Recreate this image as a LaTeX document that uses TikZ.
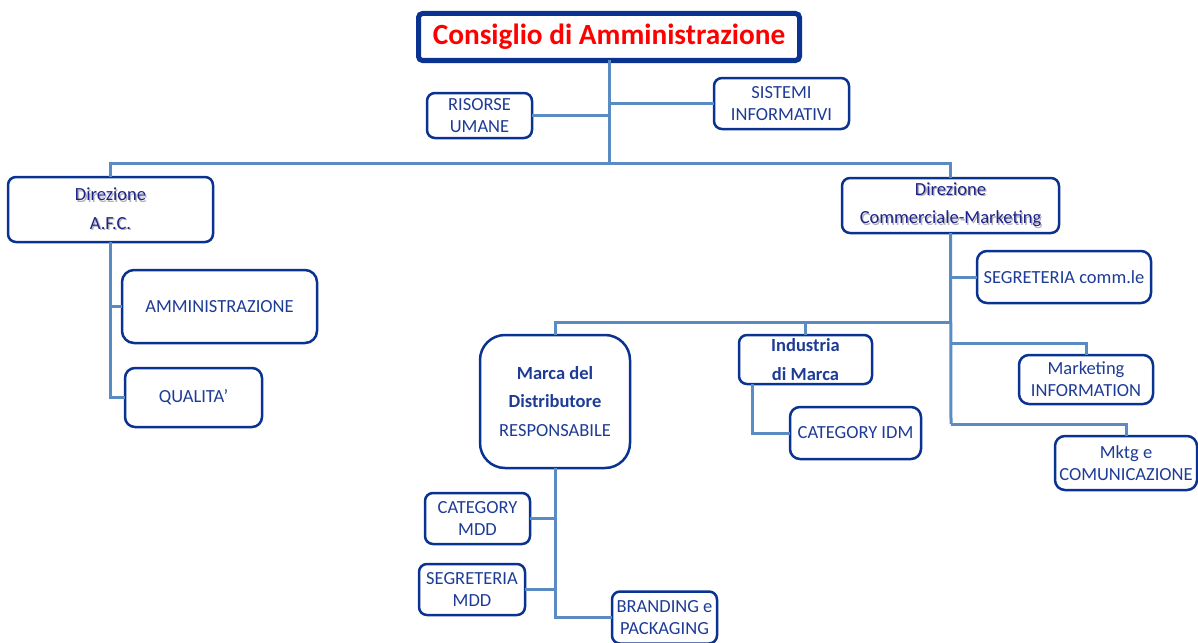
\documentclass[tikz,border=0pt]{standalone}
\usepackage{fontspec}
\setmainfont{Carlito}
\usetikzlibrary{calc}
\definecolor{bordercol}{RGB}{10,50,145}
\definecolor{txtcol}{RGB}{30,60,150}
\definecolor{dircol}{RGB}{30,35,140}
\definecolor{linecol}{RGB}{90,140,195}
\newcommand\shd[1]{\leavevmode\rlap{\hspace{1.3pt}\raisebox{-1.3pt}{\color{black!30}#1}}#1}
\begin{document}
\begin{tikzpicture}[x=1pt,y=-1pt,
  box/.style={draw=bordercol, line width=2.5pt, rounded corners=8pt, fill=white,
    text=txtcol, align=center, inner sep=0pt, outer sep=0pt,
    font=\fontsize{18.5}{22}\selectfont},
  widebox/.style={box, font=\fontsize{18.5}{28.5}\selectfont},
  conn/.style={draw=linecol, line width=3pt}]
\useasboundingbox (0,0) rectangle (1198,642);
\fill[white] (0,0) rectangle (1198,642);

\coordinate (bus) at (609,163);
\coordinate (b2) at (951,322);
\coordinate (mi) at (951,343);
\coordinate (mc) at (951,424);

\node[box, draw=bordercol, line width=5pt, rounded corners=4pt, minimum width=381pt, minimum height=47pt,
  text=red, font=\fontsize{29.3}{32}\selectfont\bfseries] (top) at (609,37) {Consiglio di Amministrazione};
\node[box, minimum width=105pt, minimum height=45pt] (ru) at (479.5,115.5) {RISORSE\\UMANE};
\node[box, minimum width=135pt, minimum height=51pt] (si) at (781.5,103.5) {SISTEMI\\INFORMATIVI};
\node[widebox, text=dircol, minimum width=205pt, minimum height=65pt] (afc) at (110.5,209.5) {\shd{Direzione}\\\shd{A.F.C.}};
\node[widebox, text=dircol, minimum width=217pt, minimum height=55pt] (com) at (950.5,205.5) {\shd{Direzione}\\\shd{Commerciale-Marketing}};
\node[box, rounded corners=12pt, minimum width=195pt, minimum height=73pt] (amm) at (219.5,306.5) {AMMINISTRAZIONE};
\node[box, rounded corners=10pt, minimum width=137pt, minimum height=59pt] (qual) at (193.5,397.5) {QUALITA’};
\node[box, rounded corners=10pt, minimum width=174pt, minimum height=52pt] (seg) at (1064,277) {SEGRETERIA comm.le};
\node[widebox, rounded corners=25pt, minimum width=150pt, minimum height=133pt] (marca) at (555,401.5) {\textbf{Marca del}\\\textbf{Distributore}\\RESPONSABILE};
\node[widebox, minimum width=133pt, minimum height=49pt] (ind) at (805.5,359.5) {\textbf{Industria}\\\textbf{di Marca}};
\node[box, rounded corners=10pt, minimum width=131pt, minimum height=52pt] (cidm) at (855.5,433) {CATEGORY IDM};
\node[box, rounded corners=10pt, minimum width=134pt, minimum height=49pt] (mkinfo) at (1086,379.5) {Marketing\\INFORMATION};
\node[box, rounded corners=10pt, minimum width=142pt, minimum height=54pt] (mkcom) at (1126,463) {Mktg e\\COMUNICAZIONE};
\node[box, minimum width=105pt, minimum height=51pt] (cmdd) at (477.5,518.5) {CATEGORY\\MDD};
\node[box, minimum width=106pt, minimum height=51pt] (smdd) at (472,589.5) {SEGRETERIA\\MDD};
\node[box, minimum width=105pt, minimum height=52pt] (bp) at (664.5,617.5) {BRANDING e\\PACKAGING};

\draw[conn] (top.south) -- (bus);
\draw[conn] (ru.east) -- (ru.east -| top.south);
\draw[conn] (si.west) -- (si.west -| top.south);
\draw[conn] (afc.north) -- (afc.north |- bus) -- (com.north |- bus) -- (com.north);
\draw[conn] (afc.south) |- (qual.west);
\draw[conn] (amm.west) -- (amm.west -| afc.south);
\draw[conn] (com.south) -- (mc);
\draw[conn] (seg.west) -- (seg.west -| com.south);
\draw[conn] (marca.north) |- (b2);
\draw[conn] (ind.north) -- (ind.north |- b2);
\draw[conn] (mi) -| (mkinfo.north);
\draw[conn] (mc) -| (mkcom.north);
\draw[conn] ([xshift=13pt]ind.south west) |- (cidm.west);
\draw[conn] (marca.south) |- (bp.west);
\draw[conn] (cmdd.east) -- (cmdd.east -| marca.south);
\draw[conn] (smdd.east) -- (smdd.east -| marca.south);
\end{tikzpicture}
\end{document}
